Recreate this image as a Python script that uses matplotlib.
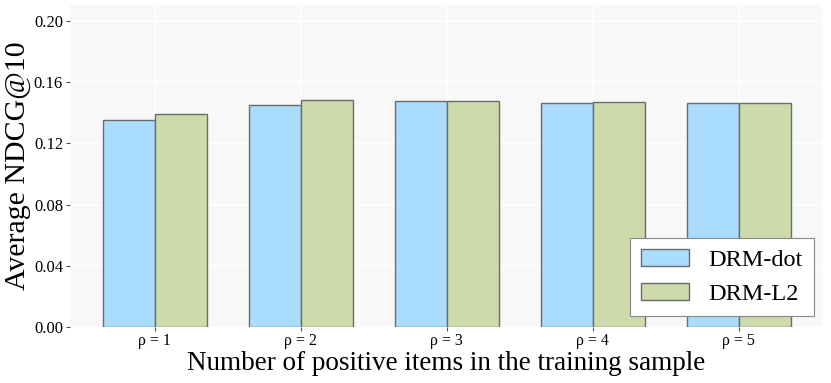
import matplotlib.pyplot as plt
import numpy as np

# datos
categorias = ['ρ = 1', 'ρ = 2', 'ρ = 3', 'ρ = 4', 'ρ = 5']
drm_dot = [0.1351, 0.1449, 0.1477, 0.1466, 0.1462]
drm_l2 = [0.1390, 0.1482, 0.1477, 0.1473, 0.1466]
yticks = [0.00, 0.04, 0.08, 0.12, 0.16, 0.20]

plt.rcParams['font.family'] = ['Liberation Serif', 'DejaVu Serif']

fig = plt.figure(figsize=(8.31, 3.83), dpi=100)
ax = fig.add_axes([70 / 831, 1 - 327 / 383, 752 / 831, 322 / 383])
ax.set_facecolor('#f8f8f8')

x = np.arange(len(categorias))
w = 0.356
ax.bar(x - w / 2, drm_dot, w, color='#aadcfd', edgecolor='#6b6b6b', linewidth=1.0,
       label='DRM-dot', zorder=3)
ax.bar(x + w / 2, drm_l2, w, color='#cddbab', edgecolor='#6b6b6b', linewidth=1.0,
       label='DRM-L2', zorder=3)

ax.set_xlim(-0.58, 4.57)
ax.set_ylim(0, 0.2105)
ax.set_xticks(x)
ax.set_xticklabels(categorias, fontsize=11.5)
ax.set_yticks(yticks)
ax.set_yticklabels([f'{v:.2f}' for v in yticks], fontsize=12)
ax.tick_params(axis='both', length=3, width=0.8, color='#555555', pad=2)
ax.tick_params(axis='x', pad=1.5)
ax.grid(True, color='white', linewidth=1.2, zorder=0)
for s in ax.spines.values():
    s.set_visible(False)

ax.set_ylabel('Average NDCG@10', fontsize=21.5, labelpad=2)
ax.set_xlabel('Number of positive items in the training sample', fontsize=19.5, labelpad=1)

leg = ax.legend(loc='lower right', bbox_to_anchor=(0.9887, 0.033), fontsize=17.5,
                frameon=True, fancybox=False, edgecolor='#888888', framealpha=1,
                handlelength=1.95, handleheight=0.7, handletextpad=0.8,
                borderpad=0.45, labelspacing=0.5, borderaxespad=0)
leg.get_frame().set_linewidth(0.8)

plt.savefig('out.png', dpi=100)
